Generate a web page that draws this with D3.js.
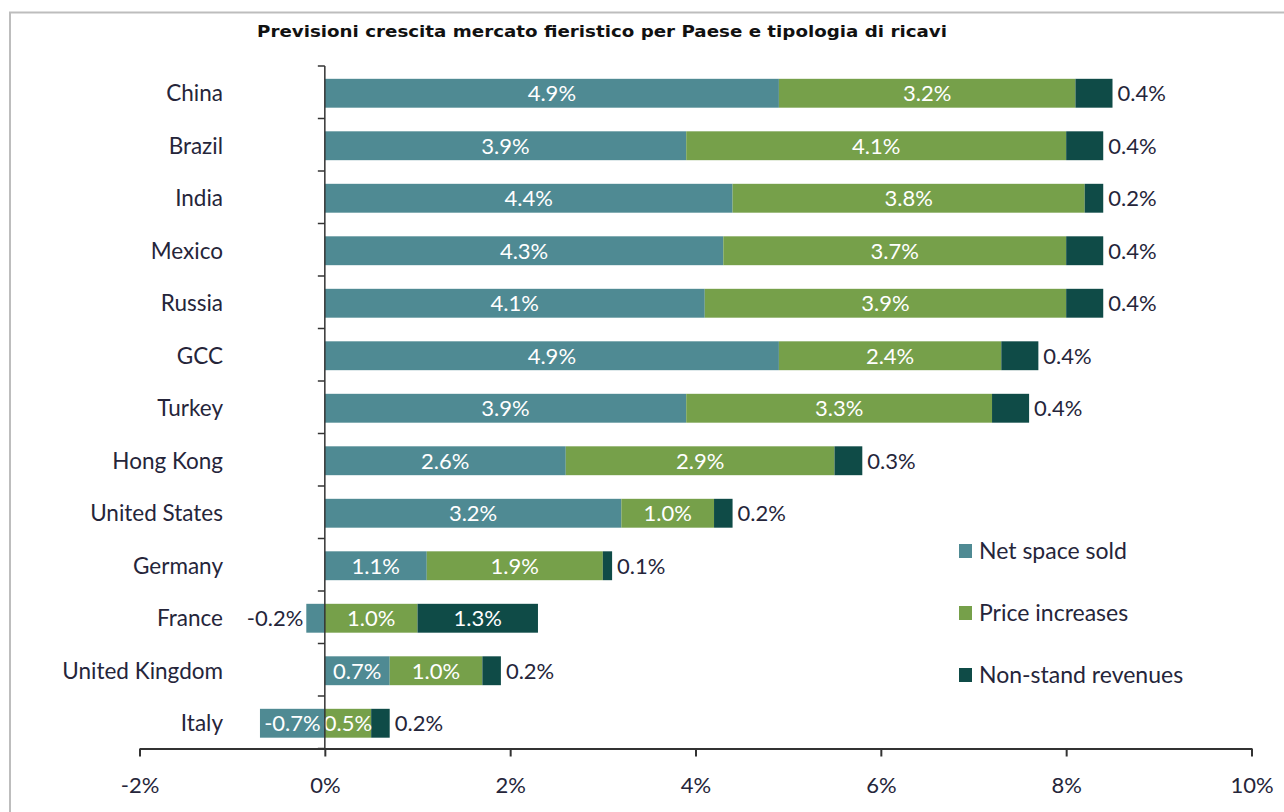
<!DOCTYPE html>
<html>
<head>
<meta charset="utf-8">
<script src="https://cdn.jsdelivr.net/npm/d3@7"></script>
<style>
  html, body { margin: 0; padding: 0; background: #ffffff; }
  svg { display: block; }
</style>
</head>
<body>
<svg id="chart" width="1284" height="812"></svg>
<script>
// Forecast growth of the trade-fair market, by country and revenue type (%)
const countries = ["China", "Brazil", "India", "Mexico", "Russia", "GCC", "Turkey",
  "Hong Kong", "United States", "Germany", "France", "United Kingdom", "Italy"];
const netSpaceSold   = [4.9, 3.9, 4.4, 4.3, 4.1, 4.9, 3.9, 2.6, 3.2, 1.1, -0.2, 0.7, -0.7];
const priceIncreases = [3.2, 4.1, 3.8, 3.7, 3.9, 2.4, 3.3, 2.9, 1.0, 1.9, 1.0, 1.0, 0.5];
const nonStandRev    = [0.4, 0.4, 0.2, 0.4, 0.4, 0.4, 0.4, 0.3, 0.2, 0.1, 1.3, 0.2, 0.2];
const seriesNames = ["Net space sold", "Price increases", "Non-stand revenues"];
const xTicks = [-2, 0, 2, 4, 6, 8, 10];
const chartTitle = "Previsioni crescita mercato fieristico per Paese e tipologia di ricavi";

const colors = ["#4f8a93", "#76a04a", "#0f4b47"];
const labelFont = "Lato, 'Open Sans', sans-serif";
const textColor = "#25253a";

const svg = d3.select("#chart");

// Frame lines (top and left)
svg.append("line").attr("x1", 9).attr("x2", 1284).attr("y1", 12.5).attr("y2", 12.5)
  .attr("stroke", "#bdbdbd").attr("stroke-width", 2);
svg.append("line").attr("x1", 10).attr("x2", 10).attr("y1", 12).attr("y2", 812)
  .attr("stroke", "#bdbdbd").attr("stroke-width", 2);

// Title
svg.append("text")
  .attr("x", 257).attr("y", 37)
  .attr("textLength", 690).attr("lengthAdjust", "spacingAndGlyphs")
  .style("font-family", "'DejaVu Sans', Verdana, sans-serif")
  .style("font-weight", "bold").style("font-size", "15px").style("fill", "#111")
  .text(chartTitle);

const x = d3.scaleLinear().domain([-2, 10]).range([139.5, 1251.5]);
const y = d3.scaleBand().domain(countries).range([66, 748.5])
  .paddingInner(0.45).paddingOuter(0.225);

// Stack the three series, keeping negative values to the left of zero
const rows = countries.map((c, i) => ({
  country: c,
  vals: [netSpaceSold[i], priceIncreases[i], nonStandRev[i]]
}));

const segs = [];
rows.forEach(r => {
  let pos = 0, neg = 0;
  r.vals.forEach((v, k) => {
    let x0, x1;
    if (v >= 0) { x0 = pos; x1 = pos + v; pos = x1; }
    else { x1 = neg; x0 = neg + v; neg = x0; }
    segs.push({ country: r.country, k, v, x0, x1 });
  });
});

const bars = svg.append("g");
bars.selectAll("rect").data(segs).join("rect")
  .attr("x", d => x(d.x0))
  .attr("y", d => y(d.country) + 1)
  .attr("width", d => x(d.x1) - x(d.x0))
  .attr("height", y.bandwidth())
  .attr("fill", d => colors[d.k]);

// Value labels
const fmt = v => v.toFixed(1) + "%";
const labels = svg.append("g")
  .style("font-family", labelFont).style("font-size", "22px");

segs.forEach(d => {
  const cy = y(d.country) + 1 + y.bandwidth() / 2;
  let inside = true;
  if (d.k === 0 && Math.abs(d.v) < 0.5) inside = false;
  if (d.k === 2 && d.v < 1) inside = false;
  const t = labels.append("text").attr("y", cy).attr("dy", "0.36em").text(fmt(d.v));
  if (inside) {
    t.attr("x", (x(d.x0) + x(d.x1)) / 2).attr("text-anchor", "middle").style("fill", "#ffffff");
  } else if (d.v < 0) {
    t.attr("x", x(d.x0) - 3).attr("text-anchor", "end").style("fill", textColor);
  } else {
    t.attr("x", x(d.x1) + 5).attr("text-anchor", "start").style("fill", textColor);
  }
});

// Category axis
const axisColor = "#333";
svg.append("line").attr("x1", x(0)).attr("x2", x(0))
  .attr("y1", y.range()[0]).attr("y2", y.range()[1])
  .attr("stroke", axisColor).attr("stroke-width", 1.5);
const bounds = countries.map(c => y(c) - y.step() * y.paddingInner() / 2);
bounds.push(y.range()[1]);
svg.append("g").selectAll("line").data(bounds).join("line")
  .attr("x1", x(0) - 7).attr("x2", x(0))
  .attr("y1", d => d).attr("y2", d => d)
  .attr("stroke", axisColor).attr("stroke-width", 1.5);

svg.append("g").selectAll("text").data(countries).join("text")
  .attr("x", 223).attr("y", d => y(d) + 1 + y.bandwidth() / 2).attr("dy", "0.36em")
  .attr("text-anchor", "end")
  .style("font-family", labelFont).style("font-size", "22.5px").style("fill", textColor)
  .text(d => d);

// Value axis
const xAxis = d3.axisBottom(x).tickValues(xTicks).tickSize(8).tickSizeOuter(0)
  .tickFormat(d => d + "%");
const gx = svg.append("g").attr("transform", `translate(0,${y.range()[1]})`).call(xAxis);
gx.select(".domain").attr("stroke", axisColor).attr("stroke-width", 2);
gx.selectAll(".tick line").attr("stroke", axisColor).attr("stroke-width", 2);
gx.selectAll(".tick text").attr("y", 29)
  .style("font-family", labelFont).style("font-size", "22px").style("fill", textColor);

// Legend
const legend = svg.append("g").attr("transform", "translate(959,0)");
const legendY = [551, 613, 675];
seriesNames.forEach((name, i) => {
  legend.append("rect").attr("x", 0).attr("y", legendY[i] - 7)
    .attr("width", 13).attr("height", 14).attr("fill", colors[i]);
  legend.append("text").attr("x", 20).attr("y", legendY[i]).attr("dy", "0.36em")
    .style("font-family", labelFont).style("font-size", "23px").style("fill", textColor)
    .text(name);
});
</script>
</body>
</html>
